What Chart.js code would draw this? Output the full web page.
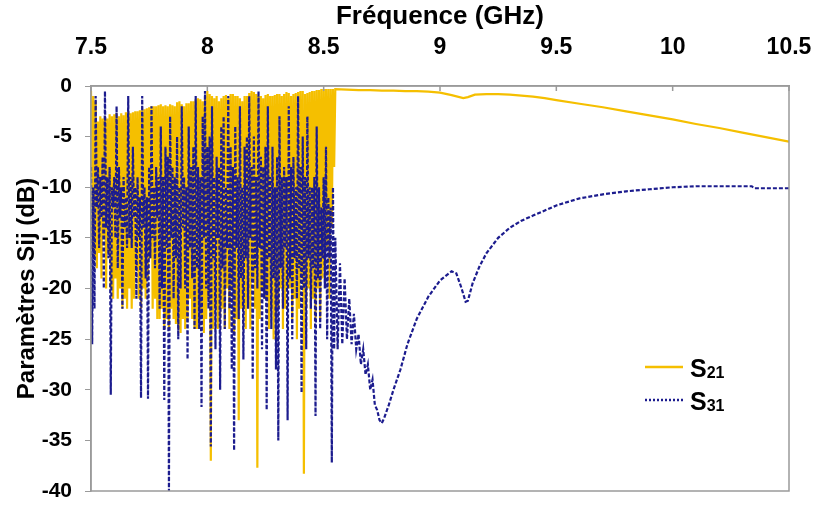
<!DOCTYPE html>
<html>
<head>
<meta charset="utf-8">
<script src="https://cdn.jsdelivr.net/npm/chart.js@4"></script>
<style>
  html, body { margin: 0; padding: 0; background: #fff; }
  #wrap { width: 814px; height: 506px; }
</style>
</head>
<body>
<div id="wrap"><canvas id="chart"></canvas></div>
<script>
// fréquences de la zone bruitée (GHz), pas de 5 MHz
const freqNoisy = [
  7.500, 7.505, 7.510, 7.515, 7.520, 7.525, 7.530, 7.535, 7.540, 7.545,
  7.550, 7.555, 7.560, 7.565, 7.570, 7.575, 7.580, 7.585, 7.590, 7.595,
  7.600, 7.605, 7.610, 7.615, 7.620, 7.625, 7.630, 7.635, 7.640, 7.645,
  7.650, 7.655, 7.660, 7.665, 7.670, 7.675, 7.680, 7.685, 7.690, 7.695,
  7.700, 7.705, 7.710, 7.715, 7.720, 7.725, 7.730, 7.735, 7.740, 7.745,
  7.750, 7.755, 7.760, 7.765, 7.770, 7.775, 7.780, 7.785, 7.790, 7.795,
  7.800, 7.805, 7.810, 7.815, 7.820, 7.825, 7.830, 7.835, 7.840, 7.845,
  7.850, 7.855, 7.860, 7.865, 7.870, 7.875, 7.880, 7.885, 7.890, 7.895,
  7.900, 7.905, 7.910, 7.915, 7.920, 7.925, 7.930, 7.935, 7.940, 7.945,
  7.950, 7.955, 7.960, 7.965, 7.970, 7.975, 7.980, 7.985, 7.990, 7.995,
  8.000, 8.005, 8.010, 8.015, 8.020, 8.025, 8.030, 8.035, 8.040, 8.045,
  8.050, 8.055, 8.060, 8.065, 8.070, 8.075, 8.080, 8.085, 8.090, 8.095,
  8.100, 8.105, 8.110, 8.115, 8.120, 8.125, 8.130, 8.135, 8.140, 8.145,
  8.150, 8.155, 8.160, 8.165, 8.170, 8.175, 8.180, 8.185, 8.190, 8.195,
  8.200, 8.205, 8.210, 8.215, 8.220, 8.225, 8.230, 8.235, 8.240, 8.245,
  8.250, 8.255, 8.260, 8.265, 8.270, 8.275, 8.280, 8.285, 8.290, 8.295,
  8.300, 8.305, 8.310, 8.315, 8.320, 8.325, 8.330, 8.335, 8.340, 8.345,
  8.350, 8.355, 8.360, 8.365, 8.370, 8.375, 8.380, 8.385, 8.390, 8.395,
  8.400, 8.405, 8.410, 8.415, 8.420, 8.425, 8.430, 8.435, 8.440, 8.445,
  8.450, 8.455, 8.460, 8.465, 8.470, 8.475, 8.480, 8.485, 8.490, 8.495,
  8.500, 8.505, 8.510, 8.515, 8.520, 8.525, 8.530, 8.535, 8.540, 8.545,
  8.550
];

const s21Noisy = [
  -0.5, -16, -1, -17, -1.5, -18, -3.5, -16.5, -3, -19,
  -3.2, -15, -3, -20, -3.2, -16.5, -2.8, -20, -3, -21,
  -2.8, -19, -2.7, -21, -3, -20, -2.7, -22, -2.9, -21,
  -2.6, -22, -2.5, -20, -2.7, -22, -2.6, -21, -2.5, -18,
  -2.5, -21, -2.4, -22, -2.4, -20, -2.3, -21, -2.2, -19,
  -2.1, -17, -2, -22, -2, -21, -2, -23, -1.9, -23,
  -1.8, -22, -2, -24, -1.9, -23, -2, -24, -1.8, -22,
  -1.9, -23, -2, -23.5, -1.6, -24, -1.5, -24.4, -1.8, -23,
  -2, -24, -1.7, -23, -1.7, -21, -1.5, -23, -1.5, -24,
  -1.3, -24, -1.2, -22, -1.3, -23, -1.5, -24.4, -1, -23,
  -0.5, -21, -0.8, -37, -1, -24, -1.2, -22, -1, -24,
  -1.5, -23, -1.2, -22, -1, -24, -0.9, -20, -1.2, -24,
  -0.8, -20, -0.8, -24.5, -1, -23, -1, -33, -1.2, -22,
  -1.5, -22, -1, -24, -1, -21, -0.7, -24, -0.5, -19,
  -0.6, -22, -0.8, -37.7, -1, -23, -1, -20, -1.2, -21,
  -0.9, -21, -0.8, -24, -1, -22, -1, -25, -0.9, -23,
  -0.8, -22, -0.8, -20, -1, -24, -0.8, -22, -0.6, -20,
  -0.7, -20, -1, -23, -0.8, -21, -0.7, -25, -0.6, -22,
  -0.5, -19, -0.5, -38.3, -0.8, -22, -0.7, -20, -0.6, -24,
  -0.5, -21, -0.5, -23, -0.4, -20, -0.4, -23, -0.3, -19,
  -0.3, -18, -0.3, -16, -0.3, -21, -0.3, -14, -0.3, -8,
  -0.3
];

const s31Noisy = [
  -8, -25.5, -10, -22, -1, -12, -8, -16, -9, -13,
  -7, -20, -0.5, -14, -9, -17, -8, -30.5, -10, -12,
  -9, -15, -2, -18, -8, -13, -10, -22, -9, -14,
  -11, -16, -1, -15, -9, -16, -6, -13, -10, -21,
  -9, -15, -11, -30.8, -1, -14, -10, -19, -11, -30.9,
  -8, -17, -2, -15, -10, -18, -8, -13, -9, -22,
  -4, -20, -9, -31, -6, -16, -7, -40, -3, -15,
  -8, -21, -9, -17, -5, -25, -10, -20, -2, -14,
  -9, -20, -10, -27, -4, -16, -8, -19, -6, -24,
  -1, -18, -8, -24, -9, -31.7, -3, -15, -0.5, -20,
  -6, -22, -5, -35.6, -2, -17, -9, -26, -7, -15,
  -8, -30, -4, -18, -3, -24, -10, -16, -1, -22,
  -6, -28, -8, -36, -4, -16, -9, -23, -2, -19,
  -10, -27, -6, -17, -5, -22, -1, -15, -8, -29,
  -5, -18, -9, -20, -0.5, -16, -7, -26, -8, -21,
  -6, -32, -2, -17, -9, -24, -6, -19, -10, -28,
  -7, -35, -3, -18, -9, -22, -8, -16, -9, -33,
  -2, -19, -8, -25, -7, -17, -10, -21, -1, -18,
  -8, -30.3, -5, -20, -9, -26, -3, -17, -10, -22,
  -10, -18, -9, -32.6, -4, -19, -10, -24, -12, -17,
  -9, -20, -6, -25, -11, -17, -12, -37.2, -10, -26,
  -15
];

// au-delà de la zone bruitée
const s21TailFreq = [8.60, 8.65, 8.70, 8.75, 8.80, 8.85, 8.90, 8.95, 9.00, 9.05,
  9.10, 9.12, 9.15, 9.20, 9.25, 9.30, 9.35, 9.40, 9.45, 9.50,
  9.60, 9.70, 9.80, 9.90, 10.00, 10.10, 10.20, 10.30, 10.40, 10.50];
const s21Tail = [-0.35, -0.4, -0.4, -0.45, -0.45, -0.5, -0.5, -0.55, -0.65, -0.9,
  -1.2, -1.1, -0.85, -0.8, -0.8, -0.85, -0.95, -1.05, -1.2, -1.4,
  -1.75, -2.1, -2.5, -2.9, -3.3, -3.75, -4.15, -4.6, -5.05, -5.5];

const s31TailFreq = [8.56, 8.57, 8.58, 8.59, 8.60, 8.61, 8.62, 8.63, 8.64, 8.65,
  8.66, 8.67, 8.68, 8.69, 8.70, 8.71, 8.72, 8.73, 8.74, 8.75,
  8.76, 8.78, 8.80, 8.83, 8.86, 8.90, 8.95, 9.00, 9.05, 9.07,
  9.09, 9.11, 9.12, 9.14, 9.17, 9.20, 9.25, 9.30, 9.35, 9.40,
  9.50, 9.60, 9.70, 9.80, 9.90, 10.00, 10.10, 10.20, 10.30, 10.34,
  10.35, 10.40, 10.50];
const s31Tail = [-26, -17.5, -25.5, -19, -25, -21, -25.5, -22.5, -26, -24.5,
  -27.5, -26, -28.5, -27.5, -30, -29, -31.5, -32, -33, -33.3,
  -32.8, -31.5, -30, -28, -25.5, -23, -20.8, -19.2, -18.3, -18.5,
  -19.8, -21.3, -21.2, -19.5, -17.8, -16.5, -15, -14, -13.3, -12.8,
  -11.8, -11.1, -10.7, -10.4, -10.2, -10.0, -9.9, -9.9, -9.9, -9.9,
  -10.1, -10.1, -10.1];

const yTicks = [0, -5, -10, -15, -20, -25, -30, -35, -40];

const YELLOW = "#F5BF00";
const BLUE = "#1C1C8E";
const GREY = "#9a9a9a";
const FONT = "'Liberation Sans', Arial, sans-serif";

function toPoints(xs, ys) {
  return xs.map((x, i) => ({ x: x, y: ys[i] }));
}

// cadre gris + petites graduations vers l'intérieur en haut
const framePlugin = {
  id: "frame",
  afterDraw(chart) {
    const a = chart.chartArea;
    const ctx = chart.ctx;
    const xs = chart.scales.x;
    ctx.save();
    ctx.strokeStyle = GREY;
    ctx.lineWidth = 1.5;
    ctx.strokeRect(a.left, a.top, a.right - a.left, a.bottom - a.top);
    ctx.beginPath();
    xs.ticks.forEach(t => {
      const px = xs.getPixelForValue(t.value);
      ctx.moveTo(px, a.top);
      ctx.lineTo(px, a.top + 5);
    });
    ctx.stroke();
    ctx.restore();
  }
};

// légende avec indices (S21, S31)
const legendPlugin = {
  id: "subLegend",
  afterDraw(chart) {
    const a = chart.chartArea;
    const ctx = chart.ctx;
    const rows = [
      { color: YELLOW, dash: [], main: "S", sub: "21", dy: 281 },
      { color: BLUE, dash: [2, 2], main: "S", sub: "31", dy: 314 }
    ];
    ctx.save();
    rows.forEach(r => {
      const y = a.top + r.dy;
      const x0 = a.left + 554;
      ctx.strokeStyle = r.color;
      ctx.lineWidth = 2.5;
      ctx.setLineDash(r.dash);
      ctx.beginPath();
      ctx.moveTo(x0, y);
      ctx.lineTo(x0 + 38, y);
      ctx.stroke();
      ctx.setLineDash([]);
      ctx.fillStyle = "#000";
      ctx.textBaseline = "alphabetic";
      ctx.font = "bold 25px " + FONT;
      ctx.fillText(r.main, x0 + 45, y + 9.5);
      const w = ctx.measureText(r.main).width;
      ctx.font = "bold 16px " + FONT;
      ctx.fillText(r.sub, x0 + 45 + w, y + 11);
    });
    ctx.restore();
  }
};

const ctx = document.getElementById("chart").getContext("2d");
new Chart(ctx, {
  type: "line",
  data: {
    datasets: [
      {
        label: "S21",
        data: toPoints(freqNoisy, s21Noisy).concat(toPoints(s21TailFreq, s21Tail)),
        borderColor: YELLOW,
        borderWidth: 2.2,
        pointRadius: 0,
        tension: 0,
        order: 2
      },
      {
        label: "S31",
        data: toPoints(freqNoisy, s31Noisy).concat(toPoints(s31TailFreq, s31Tail)),
        borderColor: BLUE,
        borderWidth: 2.2,
        borderDash: [4, 2],
        pointRadius: 0,
        tension: 0,
        order: 1
      }
    ]
  },
  options: {
    responsive: true,
    maintainAspectRatio: false,
    animation: false,
    layout: { padding: { left: 0, top: 0, right: 25, bottom: 15 } },
    plugins: {
      legend: { display: false },
      tooltip: { enabled: false }
    },
    scales: {
      x: {
        type: "linear",
        position: "top",
        min: 7.5,
        max: 10.5,
        ticks: {
          stepSize: 0.5,
          color: "#000",
          padding: 25,
          font: { family: FONT, size: 23, weight: "bold" },
          callback: v => String(Math.round(v * 10) / 10)
        },
        grid: { drawOnChartArea: false, drawTicks: false },
        border: { color: GREY, width: 1.5 },
        title: {
          display: true,
          text: "Fréquence (GHz)",
          color: "#000",
          padding: { top: 1, bottom: 0 },
          font: { family: FONT, size: 26, weight: "bold" }
        },
        afterFit(scale) {
          scale.height = 86;
          scale.paddingLeft = 0;
          scale.paddingRight = 0;
        }
      },
      y: {
        min: -40,
        max: 0,
        afterBuildTicks(scale) { scale.ticks = yTicks.map(v => ({ value: v })); },
        ticks: {
          color: "#000",
          padding: 13,
          font: { family: FONT, size: 21, weight: "bold" }
        },
        grid: { drawOnChartArea: false, tickLength: 6, color: GREY },
        border: { color: GREY, width: 1.5 },
        title: {
          display: true,
          text: "Paramètres Sij (dB)",
          color: "#000",
          padding: { top: 13, bottom: 0 },
          font: { family: FONT, size: 24, weight: "bold" }
        },
        afterFit(scale) {
          scale.width = 91;
          scale.paddingTop = 0;
          scale.paddingBottom = 0;
        }
      }
    }
  },
  plugins: [framePlugin, legendPlugin]
});
</script>
</body>
</html>
